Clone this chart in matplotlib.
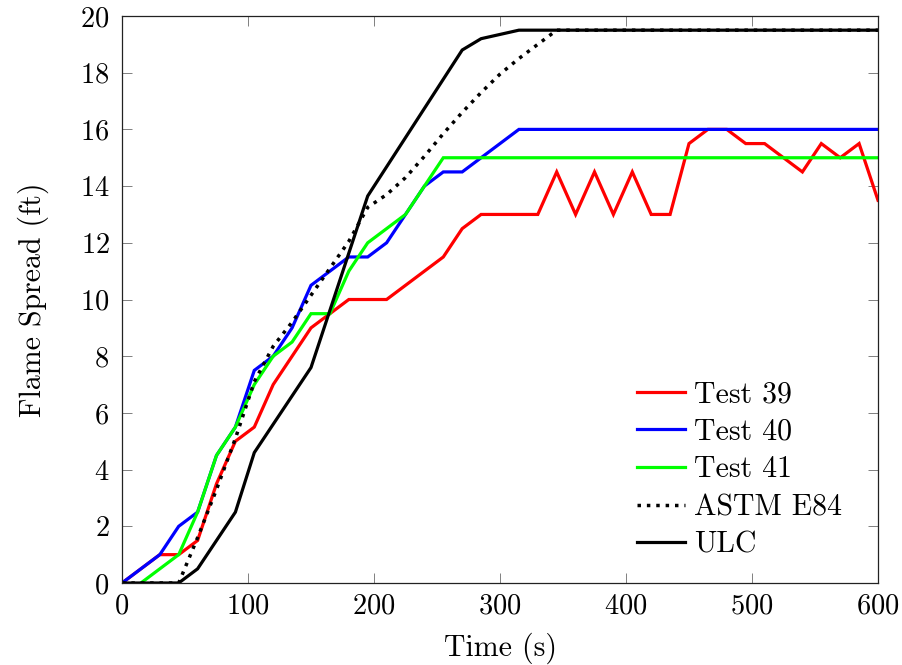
import matplotlib
matplotlib.use("Agg")
import matplotlib.pyplot as plt

plt.rcParams["font.family"] = ["cmr10", "DejaVu Serif"]
plt.rcParams["mathtext.fontset"] = "cm"
plt.rcParams["axes.formatter.use_mathtext"] = True

# Flame spread measurements (time in s, spread in ft)
t39 = [0, 30, 45, 60, 75, 90, 105, 120, 150, 165, 180, 210, 255, 270, 285, 330,
       345, 360, 375, 390, 405, 420, 435, 450, 465, 480, 495, 510, 525, 540, 555,
       570, 585, 600]
v39 = [0, 1, 1, 1.5, 3.5, 5, 5.5, 7, 9, 9.5, 10, 10, 11.5, 12.5, 13, 13,
       14.5, 13, 14.5, 13, 14.5, 13, 13, 15.5, 16, 16, 15.5, 15.5, 15, 14.5, 15.5,
       15, 15.5, 13.5]

t40 = [0, 30, 45, 60, 75, 90, 105, 120, 135, 150, 165, 180, 195, 210, 225, 240,
       255, 270, 315, 600]
v40 = [0, 1, 2, 2.5, 4.5, 5.5, 7.5, 8, 9, 10.5, 11, 11.5, 11.5, 12, 13, 14,
       14.5, 14.5, 16, 16]

t41 = [15, 45, 60, 75, 90, 105, 120, 135, 150, 165, 180, 195, 225, 255, 600]
v41 = [0, 1, 2.5, 4.5, 5.5, 7, 8, 8.5, 9.5, 9.5, 11, 12, 13, 15, 15]

t_astm = [0, 45, 60, 75, 90, 105, 120, 135, 150, 165, 180, 195, 210, 225, 240,
          255, 270, 285, 300, 315, 330, 345, 600]
v_astm = [0, 0, 1.6, 3.3, 5.1, 7.1, 8.35, 9.2, 10.15, 11.1, 12.05, 13.25, 13.7,
          14.3, 15.05, 15.85, 16.6, 17.3, 17.95, 18.5, 19.0, 19.5, 19.5]

t_ulc = [0, 45, 60, 90, 105, 150, 195, 270, 285, 315, 600]
v_ulc = [0, 0, 0.5, 2.5, 4.6, 7.6, 13.65, 18.8, 19.2, 19.5, 19.5]

x_ticks = [0, 100, 200, 300, 400, 500, 600]
y_ticks = [0, 2, 4, 6, 8, 10, 12, 14, 16, 18, 20]

fig = plt.figure(figsize=(9.03, 6.65), dpi=100)
ax = fig.add_axes([122 / 903, 1 - 583 / 665, 756 / 903, 567 / 665])

lw = 2.3
ax.plot(t39, v39, color="#ff0000", lw=lw, label="Test 39", solid_joinstyle="miter")
ax.plot(t40, v40, color="#0000ff", lw=lw, label="Test 40", solid_joinstyle="miter")
ax.plot(t41, v41, color="#00ff00", lw=lw, label="Test 41", solid_joinstyle="miter")
ax.plot(t_astm, v_astm, color="black", lw=2.5, linestyle=(0, (1, 1.7)),
        dash_capstyle="butt", label="ASTM E84")
ax.plot(t_ulc, v_ulc, color="black", lw=lw, label="ULC", solid_joinstyle="miter")

ax.set_xlim(0, 600)
ax.set_ylim(0, 20)
ax.set_xticks(x_ticks)
ax.set_yticks(y_ticks)
ax.tick_params(which="both", direction="in", top=True, right=True,
               length=7.5, width=0.7, color="#808080", labelsize=20.5)
ax.tick_params(axis="x", pad=7)
ax.tick_params(axis="y", pad=9)
for s in ax.spines.values():
    s.set_linewidth(0.9)
    s.set_color("#222222")

ax.set_xlabel("Time (s)", fontsize=21.5, labelpad=10)
ax.set_ylabel("Flame Spread (ft)", fontsize=21.5, labelpad=22)

ax.legend(loc="lower right", bbox_to_anchor=(0.952, 0.043), frameon=False,
          fontsize=21.5, handlelength=1.6, handletextpad=0.3, labelspacing=0.34,
          borderpad=0, borderaxespad=0)

fig.savefig("out.png", dpi=100)
